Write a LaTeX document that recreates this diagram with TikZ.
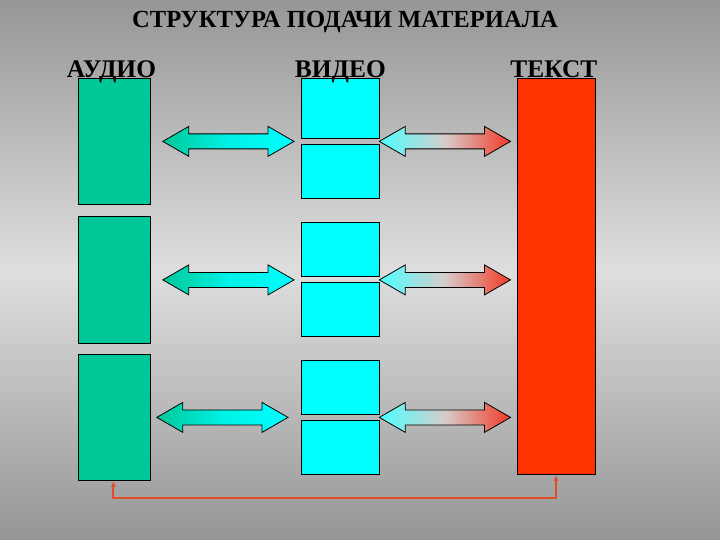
\documentclass[tikz,border=0pt]{standalone}
\usepackage{fontspec}
\setmainfont{Liberation Serif}
\usetikzlibrary{arrows.meta, calc}

\definecolor{audiogreen}{RGB}{0,200,152}
\definecolor{videocyan}{RGB}{0,255,255}
\definecolor{textred}{RGB}{255,51,0}
\definecolor{linkred}{RGB}{226,78,40}
\definecolor{bgdark}{RGB}{150,150,150}
\definecolor{bglight}{RGB}{222,222,222}

\tikzset{
    box/.style={draw=black,line width=0.8pt,inner sep=0pt,anchor=north west},
    label text/.style={font=\fontsize{25.4}{30}\selectfont\bfseries,anchor=base,inner sep=0pt},
    tealarrow/.style={draw=black,line width=0.8pt,left color=audiogreen,right color=videocyan,
        middle color=videocyan!75!audiogreen},
    redarrow/.style={draw=black,line width=0.8pt,left color=videocyan!70!white,
        right color={rgb,255:red,242;green,58;blue,38},middle color={rgb,255:red,214;green,204;blue,204}}
}

% double arrow from tip #2 to tip #3
\newcommand{\twoway}[3]{%
  \path[#1] let \p1=(#2), \p2=(#3) in
    (\p1) -- (\x1+26pt,\y1+15pt) -- (\x1+26pt,\y1+7.5pt)
    -- (\x2-26pt,\y2+7.5pt) -- (\x2-26pt,\y2+15pt) -- (\p2)
    -- (\x2-26pt,\y2-15pt) -- (\x2-26pt,\y2-7.5pt)
    -- (\x1+26pt,\y1-7.5pt) -- (\x1+26pt,\y1-15pt) -- cycle;}

\begin{document}
\begin{tikzpicture}[x=1pt,y=-1pt]
\useasboundingbox (0,0) rectangle (720,540);
\shade[top color=bgdark,bottom color=bgdark,middle color=bglight] (0,0) rectangle (720,540);

\begin{scope}[every node/.style={box}]
    % % audio
    \node (a1) at (78,78) [fill=audiogreen,minimum width=72pt,minimum height=126pt] {};
    \node (a2) at (78,216) [fill=audiogreen,minimum width=72pt,minimum height=127pt] {};
    \node (a3) at (78,354) [fill=audiogreen,minimum width=72pt,minimum height=126pt] {};

    % % video
    \node (v1) at (300.5,78) [fill=videocyan,minimum width=78pt,minimum height=60pt] {};
    \node (v2) at (300.5,144) [fill=videocyan,minimum width=78pt,minimum height=54pt] {};
    \node (v3) at (300.5,222) [fill=videocyan,minimum width=78pt,minimum height=54pt] {};
    \node (v4) at (300.5,282) [fill=videocyan,minimum width=78pt,minimum height=54pt] {};
    \node (v5) at (300.5,360) [fill=videocyan,minimum width=78pt,minimum height=54pt] {};
    \node (v6) at (300.5,420) [fill=videocyan,minimum width=78pt,minimum height=54pt] {};

    % % text
    \node (t) at (516.5,78) [fill=textred,minimum width=78pt,minimum height=396pt] {};
\end{scope}

\node (title) at (345,28) [label text,font=\fontsize{24.6}{30}\selectfont\bfseries] {СТРУКТУРА ПОДАЧИ МАТЕРИАЛА};
\node (la) at ($(a1.north)+(-3,0)$) [label text] {АУДИО};
\node (lv) at ($(v1.north)+(0.5,0)$) [label text] {ВИДЕО};
\node (lt) at ($(t.north)+(-2,0)$) [label text] {ТЕКСТ};

% % arrow tips
\coordinate (p1) at ($(a1.east)+(12,0)$);
\coordinate (q1) at ($(a1.east -| v1.west)+(-6.5,0)$);
\coordinate (p2) at ($(a2.east)+(12,0)$);
\coordinate (q2) at ($(a2.east -| v3.west)+(-6.5,0)$);
\coordinate (p3) at ($(a3.east)+(6,0)$);
\coordinate (q3) at ($(a3.east -| v5.west)+(-12.5,0)$);

\twoway{tealarrow}{p1}{q1}
\twoway{tealarrow}{p2}{q2}
\twoway{tealarrow}{p3}{q3}

\twoway{redarrow}{a1.east -| v1.east}{$(a1.east -| t.west)+(-6,0)$}
\twoway{redarrow}{a2.east -| v3.east}{$(a2.east -| t.west)+(-6,0)$}
\twoway{redarrow}{a3.east -| v5.east}{$(a3.east -| t.west)+(-6,0)$}

\draw [linkred,line width=2pt,{Latex[length=6pt,width=5pt]}-{Latex[length=6pt,width=5pt]}]
    ($(a3.south)+(-1,0)$) -- ++(0,17.5) -| (t.south);
\end{tikzpicture}
\end{document}
